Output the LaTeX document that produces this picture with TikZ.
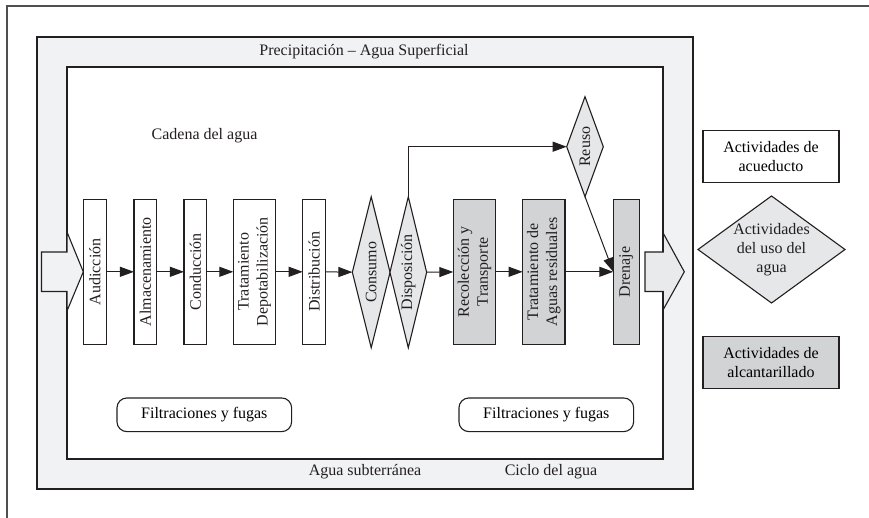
\documentclass[tikz,border=0pt]{standalone}
\usepackage{fontspec}
\setmainfont{Liberation Serif}
\usetikzlibrary{shapes.geometric,arrows.meta}
\definecolor{ink}{HTML}{231F20}
\definecolor{ringfill}{HTML}{F1F2F3}
\definecolor{arrfill}{HTML}{E9EAEB}
\definecolor{lightfill}{HTML}{E6E7E8}
\definecolor{darkfill}{HTML}{D1D3D4}
\definecolor{framegray}{HTML}{4F4F51}
\begin{document}
\begin{tikzpicture}[x=1pt,y=-1pt,font=\fontsize{16}{19}\selectfont,
  line width=1.1pt,
  wbox/.style={draw=ink,fill=white,minimum width=#1,minimum height=145,inner sep=0,outer sep=0},
  gbox/.style={wbox=#1,fill=darkfill},
  dia/.style={diamond,draw=ink,fill=lightfill,inner sep=0,outer sep=0},
  rtext/.style={rotate=90,align=center,inner sep=0,text=ink},
  arr/.style={draw=ink,line width=1pt,-{Triangle[length=14pt,width=10pt]}},
  fbox/.style={draw=ink,fill=white,rounded corners=10pt,minimum width=174.7,minimum height=33.7,inner sep=0},
  legbox/.style={draw=ink,minimum width=136,minimum height=52,align=center,inner sep=0},
  plain/.style={text=ink,inner sep=0}
]
\useasboundingbox (0,0) rectangle (869,518);
% outer frame lines
\draw[framegray,line width=1.4pt] (7,518) -- (7,6) -- (869,6);
% water cycle ring
\draw[draw=ink,fill=ringfill] (37,37) rectangle (693,489);
\draw[draw=ink,fill=white] (67,67) rectangle (663,459);
% in / out arrows
\draw[draw=ink,fill=ringfill] (41.5,252) -- (67,252) -- (67,232) -- (83.3,271.8) -- (67,311) -- (67,291.5) -- (41.5,291.5) -- cycle;
\draw[draw=ink,fill=arrfill] (645,252) -- (663.3,252) -- (663.3,233.3) -- (684.3,271.8) -- (663.3,309.5) -- (663.3,291.5) -- (645,291.5) -- cycle;

% texts
\node[plain] (prec) at (364,52) {Precipitación – Agua Superficial};
\node[plain] (cad) at (204.5,135.5) {Cadena del agua};
\node[plain] (sub) at (365,471.5) {Agua subterránea};
\node[plain] (cic) at (551,471.5) {Ciclo del agua};

% chain
\node[wbox=23.4,label={[rtext]center:Audicción}] (aud) at (95,271.8) {};
\node[wbox=22.7,label={[rtext]center:Almacenamiento}] (alm) at (145.3,271.8) {};
\node[wbox=22.7,label={[rtext]center:Conducción}] (con) at (195.3,271.8) {};
\node[wbox=42.4,label={[rtext]center:Tratamiento\\Depotabilización}] (tra) at (254.5,271.8) {};
\node[wbox=23,label={[rtext]center:Distribución}] (dis) at (314.2,271.8) {};
\node[dia,minimum width=37.7,minimum height=151,label={[rtext]center:Consumo}] (cons) at (371.2,272.3) {};
\node[dia,minimum width=36.7,minimum height=151,label={[rtext]center:Disposición}] (disp) at (408.3,272.3) {};
\node[gbox=42.4,label={[rtext]center:Recolección y\\Transporte}] (rec) at (474.5,271.8) {};
\node[gbox=42.3,label={[rtext]center:Tratamiento de\\Aguas residuales}] (tar) at (543.8,271.8) {};
\node[gbox=26,label={[rtext]center:Drenaje}] (dre) at (626.3,271.8) {};
\node[dia,minimum width=36.6,minimum height=100,label={[rtext]center:Reuso}] (reu) at (585,146.7) {};

% connectors
\draw[arr] (aud) -- (alm);
\draw[arr] (alm) -- (con);
\draw[arr] (con) -- (tra);
\draw[arr] (tra) -- (dis);
\draw[arr] (dis) -- (cons);
\draw[arr] (disp) -- (rec);
\draw[arr] (rec) -- (tar);
\draw[arr] (tar) -- (dre);
\draw[arr] (disp.north) |- (reu.west);
\draw[arr] (reu.south) -- (dre.west);

% leaks
\node[fbox] (fil1) at (204.3,414.8) {Filtraciones y fugas};
\node[fbox] (fil2) at (546.3,414.8) {Filtraciones y fugas};

% legend
\node[legbox,fill=white] (leg1) at (771,156.7) {Actividades de\\acueducto};
\node[dia,minimum width=147,minimum height=107,label={[align=center,inner sep=0,text=ink]center:Actividades\\del uso del\\agua}] (leg2) at (771.5,249.5) {};
\node[legbox,fill=darkfill] (leg3) at (771,362.5) {Actividades de\\alcantarillado};
\end{tikzpicture}
\end{document}
